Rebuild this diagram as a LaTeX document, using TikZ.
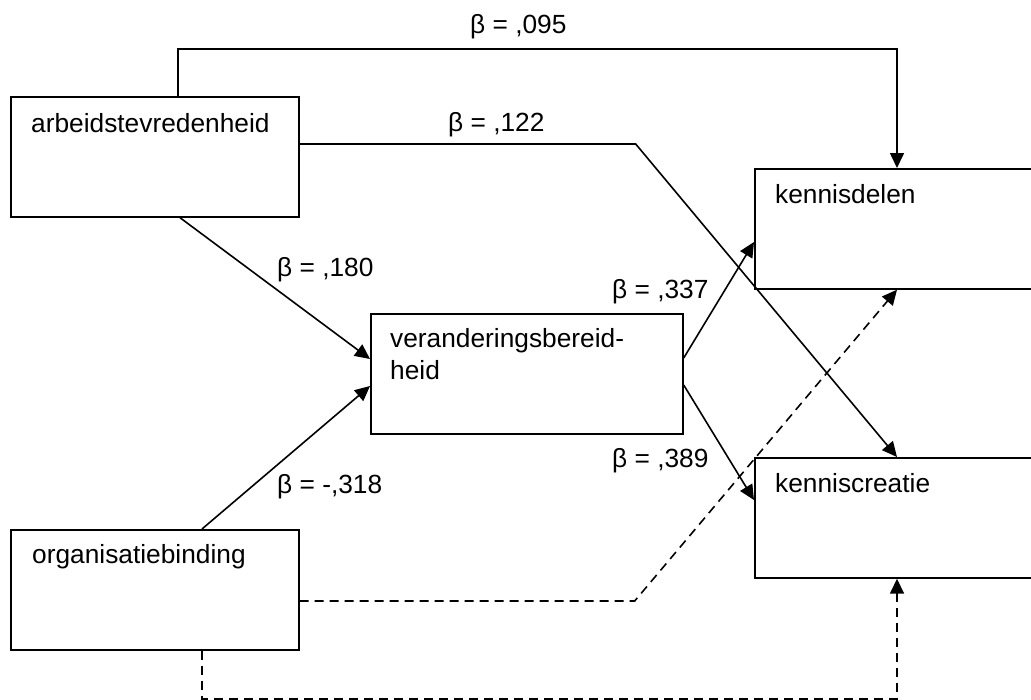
\documentclass[tikz,border=0pt]{standalone}
\usepackage{fontspec}
\setmainfont{Liberation Sans}
\usetikzlibrary{arrows.meta,calc}
\begin{document}
\begin{tikzpicture}[x=1pt,y=-1pt,
  box/.style={draw,line width=1.7pt,rectangle,minimum width=#1,minimum height=120pt,anchor=north west,inner sep=0pt},
  txt/.style={font=\fontsize{26.3}{32}\selectfont,inner sep=0pt,anchor=base west},
  conn/.style={line width=1.6pt,-{Triangle[length=15pt,width=14pt]}},
  dashconn/.style={conn,dash pattern=on 9pt off 6pt}]
\clip (0,0) rectangle (1031,699);
% boxes
\node[box=288pt] (arb) at (10,96) {};
\node[box=312pt] (ver) at (370,313) {};
\node[box=288pt] (org) at (10,529) {};
\node[box=300pt] (kd) at (754,168) {};
\node[box=300pt] (kc) at (754,457) {};
% box texts
\node[txt] (tarb) at (31,132) {arbeidstevredenheid};
\node[txt] (tver1) at (390,347) {veranderingsbereid-};
\node[txt] (tver2) at (390,379) {heid};
\node[txt] (torg) at (32,563) {organisatiebinding};
\node[txt] (tkd) at (775,203) {kennisdelen};
\node[txt] (tkc) at (775,492) {kenniscreatie};
% labels
\node[txt] (l095) at (470,33) {β = ,095};
\node[txt] (l122) at (448,131) {β = ,122};
\node[txt] (l180) at (277,276) {β = ,180};
\node[txt] (l318) at (277,493) {β = -,318};
\node[txt] (l337) at (612,298) {β = ,337};
\node[txt] (l389) at (612,467) {β = ,389};
% connectors
\draw[conn] ($(arb.north west)+(168,0)$) -- ++(0,-47) -| ($(kd.north west)+(143,0)$);
\draw[conn] ($(arb.north east)+(0,48)$) -- ++(336,0) -- ($(kc.north west)+(143,0)$);
\draw[conn] ($(arb.south west)+(170,0)$) -- ($(ver.north west)+(0,46)$);
\draw[conn] ($(org.north west)+(192,0)$) -- ($(ver.north west)+(0,73)$);
\draw[conn] ($(ver.north east)+(0,45)$) -- ($(kd.north west)+(0,74)$);
\draw[conn] ($(ver.north east)+(0,72)$) -- ($(kc.north west)+(0,43)$);
\draw[dashconn] ($(org.north east)+(0,72)$) -- ++(335,0) -- ($(kd.south west)+(143,0)$);
\draw[dashconn] ($(org.south west)+(192,0)$) -- ++(0,48) -| ($(kc.south west)+(143,0)$);
\end{tikzpicture}
\end{document}
